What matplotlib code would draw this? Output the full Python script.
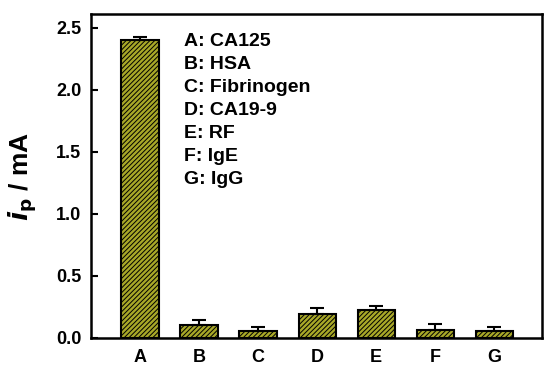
import matplotlib
matplotlib.use('Agg')
import matplotlib.pyplot as plt

plt.rcParams['font.family'] = ['Liberation Sans', 'DejaVu Sans']
plt.rcParams['font.weight'] = 'bold'
plt.rcParams['hatch.color'] = '#2e2e08'
plt.rcParams['hatch.linewidth'] = 0.7

labels = ['A', 'B', 'C', 'D', 'E', 'F', 'G']
values = [2.40, 0.105, 0.056, 0.19, 0.225, 0.065, 0.055]
errors = [0.025, 0.04, 0.035, 0.05, 0.035, 0.045, 0.035]
names = ['A: CA125', 'B: HSA', 'C: Fibrinogen', 'D: CA19-9', 'E: RF', 'F: IgE', 'G: IgG']

fig = plt.figure(figsize=(5.5, 3.75), dpi=100)
ax = fig.add_axes([0.1655, 0.0987, 0.82, 0.864])

pos = list(range(1, len(labels) + 1))
ax.bar(pos, values, width=0.63, color='#a8a828', edgecolor='black',
       linewidth=1.5, hatch='///////', zorder=2)
ax.errorbar(pos, values, yerr=[[0] * len(errors), errors], fmt='none',
            ecolor='black', elinewidth=1.5, capsize=5, capthick=1.5, zorder=3)

ax.set_xlim(0.17, 7.81)
ax.set_ylim(0, 2.61)
ax.set_xticks(pos)
ax.set_xticklabels(labels, fontsize=13, fontweight='bold')
ax.set_yticks([0, 0.5, 1.0, 1.5, 2.0, 2.5])
ax.set_yticklabels(['0.0', '0.5', '1.0', '1.5', '2.0', '2.5'], fontsize=13, fontweight='bold')
ax.tick_params(axis='y', direction='in', length=5, width=1.5, pad=7)
ax.tick_params(axis='x', length=0, pad=8)
for s in ax.spines.values():
    s.set_linewidth(1.8)

fig.text(0.042, 0.53, r'$\mathbf{\mathit{i}}_{\mathbf{p}}$ / mA', rotation=90,
         fontsize=19, fontweight='bold', ha='center', va='center')

y0 = 2.39
for k, n in enumerate(names):
    ax.text(1.75, y0 - k * 0.186, n, fontsize=14, fontweight='bold',
            ha='left', va='center')

fig.savefig('out.png', dpi=100)
